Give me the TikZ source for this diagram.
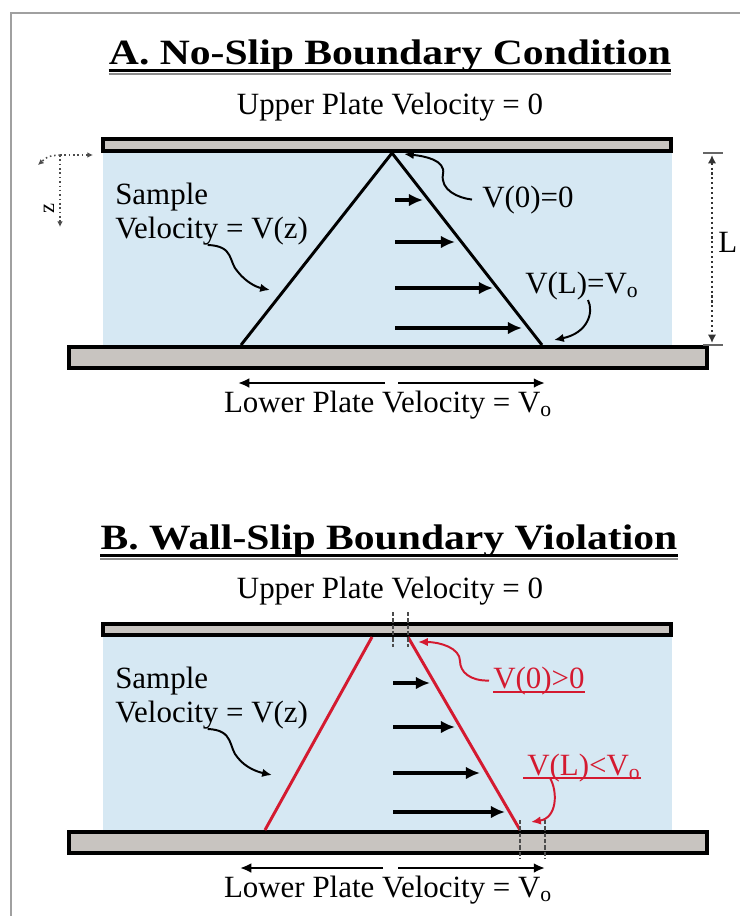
\documentclass[tikz,border=0pt]{standalone}
\usepackage{fontspec}
\setmainfont{Liberation Serif}
\newfontfamily\headfont[FakeStretch=1.17]{Liberation Serif}
\usetikzlibrary{arrows.meta,calc}
\definecolor{fluidblue}{RGB}{214,232,243}
\definecolor{plategray}{RGB}{200,196,192}
\definecolor{slipred}{RGB}{212,26,48}
\definecolor{framegray}{RGB}{160,160,160}
\tikzset{
  pageframe/.style={draw=framegray, line width=1pt},
  heading/.style={font=\headfont\bfseries\fontsize{25.3}{30}\selectfont, inner sep=0pt, anchor=base},
  headrule/.style={draw=black, line width=2.1pt},
  headshadow/.style={draw=black!45, line width=1.6pt},
  plaintext/.style={font=\fontsize{22}{26}\selectfont, inner sep=0pt},
  redtext/.style={plaintext, text=slipred},
  fluid/.style={fill=fluidblue},
  plate/.style={fill=plategray, draw=black, line width=3.2pt},
  profile/.style={draw=black, line width=2.1pt},
  slipline/.style={draw=slipred, line width=2.1pt},
  flowarrow/.style={draw=black, line width=2.4pt, -{Latex[length=10pt,width=9pt]}},
  platearrow/.style={draw=black, line width=2.1pt, -{Latex[length=8pt,width=7pt]}},
  squiggle/.style={draw=black, line width=1.4pt, -{Latex[length=7pt,width=6pt]}},
  redsquiggle/.style={squiggle, draw=slipred},
  redrule/.style={draw=slipred, line width=1.2pt},
  slipmark/.style={draw=black!70, line width=1.7pt, dash pattern=on 3pt off 1.5pt},
  dimline/.style={draw=black!80, line width=1.5pt, dotted, {Latex[length=6pt,width=6pt]}-{Latex[length=6pt,width=6pt]}},
  dimtick/.style={draw=black!60, line width=0.8pt},
  axisline/.style={draw=black!70, line width=1.1pt, dotted, -{Latex[length=4pt,width=4pt]}},
}

\begin{document}
\begin{tikzpicture}[x=0.025cm, y=-0.025cm]
\useasboundingbox (0,0) rectangle (740,916);
\draw[pageframe] (11,916) -- (11,13) -- (740,13);

% ---------- A: no slip ----------
\node[heading] (titleA) at (390,64) {A. No-Slip Boundary Condition};
\draw[headshadow] ([yshift=-0.245cm]titleA.base west) -- ([yshift=-0.245cm]titleA.base east);
\draw[headrule] ([yshift=-0.17cm]titleA.base west) -- ([yshift=-0.17cm]titleA.base east);
\node[plaintext, anchor=base] (upperA) at (390,114) {Upper Plate Velocity = 0};

\fill[fluid] (103,153) rectangle (672,345);
\draw[plate] (103,139) rectangle (671,151);
\draw[plate] (69,347) rectangle (707,368);

\coordinate (apexA) at (392,153);
\coordinate (footAl) at (241,345);
\coordinate (footAr) at (542,345);
\draw[profile] (footAl) -- (apexA) -- (footAr);

\draw[flowarrow] (395,200) -- (423,200);
\draw[flowarrow] (395,242) -- (455,242);
\draw[flowarrow] (395,288) -- (493,288);
\draw[flowarrow] (395,328) -- (522,328);

\node[plaintext, anchor=base west] (sampleA) at (115,204) {Sample};
\node[plaintext, anchor=base west] (velA) at (115,238) {Velocity = V(z)};
\coordinate (hitA) at (270,290);
\draw[squiggle] ([xshift=-0.1cm]velA.south) .. controls (235,246) and (228,262) .. (238,272)
  .. controls (246,282) and (256,287) .. (hitA);

\node[plaintext, anchor=base west] (v0A) at (482,207) {V(0)=0};
\coordinate (topA) at (404,154);
\draw[squiggle] ([xshift=-0.25cm]v0A.west) .. controls (458,198) and (440,190) .. (443,174)
  .. controls (446,160) and (424,156) .. (topA);

\node[plaintext, anchor=base west] (vLA) at (525,293) {V(L)=V\textsubscript{o}};
\coordinate (botA) at (554,340);
\draw[squiggle] ($(vLA.base west)+(63,7)$) .. controls (594,312) and (588,333) .. (botA);

% gap L
\draw[dimtick] (703,153) -- (723,153);
\draw[dimtick] (703,345) -- (723,345);
\draw[dimline] (712,155) -- (712,343);
\node[plaintext, anchor=base west] (gapL) at (718,252) {L};

% axes
\coordinate (origin) at (60,155);
\draw[axisline] (origin) -- (93,155);
\draw[axisline] (origin) -- (60,227);
\draw[axisline] (origin) .. controls (48,156) .. (38,165);
\node[font=\fontsize{16}{18}\selectfont, inner sep=0pt, rotate=90] (zaxis) at (49,209) {z};

\draw[platearrow] (385,383) -- (238,383);
\draw[platearrow] (398,383) -- (545,383);
\node[plaintext, anchor=base] (lowerA) at (388,412) {Lower Plate Velocity = V\textsubscript{o}};

% ---------- B: wall slip ----------
\node[heading] (titleB) at (389,549) {B. Wall-Slip Boundary Violation};
\draw[headshadow] ([yshift=-0.245cm]titleB.base west) -- ([yshift=-0.245cm]titleB.base east);
\draw[headrule] ([yshift=-0.17cm]titleB.base west) -- ([yshift=-0.17cm]titleB.base east);
\node[plaintext, anchor=base] (upperB) at (390,598) {Upper Plate Velocity = 0};

\fill[fluid] (103,637) rectangle (672,830);
\draw[plate] (103,624) rectangle (671,635);
\draw[plate] (69,832) rectangle (707,853);

\coordinate (apexBl) at (372,637);
\coordinate (apexBr) at (408,637);
\coordinate (footBl) at (265,830);
\coordinate (footBr) at (520,830);
\draw[slipline] (footBl) -- (apexBl);
\draw[slipline] (apexBr) -- (footBr);

\draw[slipmark] (393,612) -- (393,647);
\draw[slipmark] (408,612) -- (408,647);
\draw[slipmark] (520,820) -- (520,858);
\draw[slipmark] (545,820) -- (545,858);

\draw[flowarrow] (393,683) -- (430,683);
\draw[flowarrow] (393,727) -- (455,727);
\draw[flowarrow] (393,773) -- (480,773);
\draw[flowarrow] (393,812) -- (505,812);

\node[plaintext, anchor=base west] (sampleB) at (115,688) {Sample};
\node[plaintext, anchor=base west] (velB) at (115,722) {Velocity = V(z)};
\coordinate (hitB) at (272,775);
\draw[squiggle] ([xshift=-0.1cm]velB.south) .. controls (235,730) and (228,748) .. (238,758)
  .. controls (246,768) and (258,772) .. (hitB);

\node[redtext, anchor=base west] (v0B) at (493,688) {V(0)>0};
\draw[redrule] ([yshift=-0.1cm]v0B.base west) -- ([yshift=-0.1cm]v0B.base east);
\coordinate (topB) at (418,642);
\draw[redsquiggle] ([xshift=-0.1cm]v0B.west) .. controls (470,681) and (460,672) .. (460,661)
  .. controls (460,648) and (440,642) .. (topB);

\node[redtext, anchor=base west] (vLB) at (527,775) {V(L)<V\textsubscript{o}};
\draw[redrule] ([yshift=-0.07cm,xshift=-0.1cm]vLB.base west) -- ([yshift=-0.07cm]vLB.base east);
\coordinate (botB) at (531,822);
\draw[redsquiggle] ($(vLB.base west)+(23,3)$) .. controls (558,792) and (557,818) .. (botB);

\draw[platearrow] (383,868) -- (240,868);
\draw[platearrow] (398,868) -- (545,868);
\node[plaintext, anchor=base] (lowerB) at (388,897) {Lower Plate Velocity = V\textsubscript{o}};
\end{tikzpicture}
\end{document}
